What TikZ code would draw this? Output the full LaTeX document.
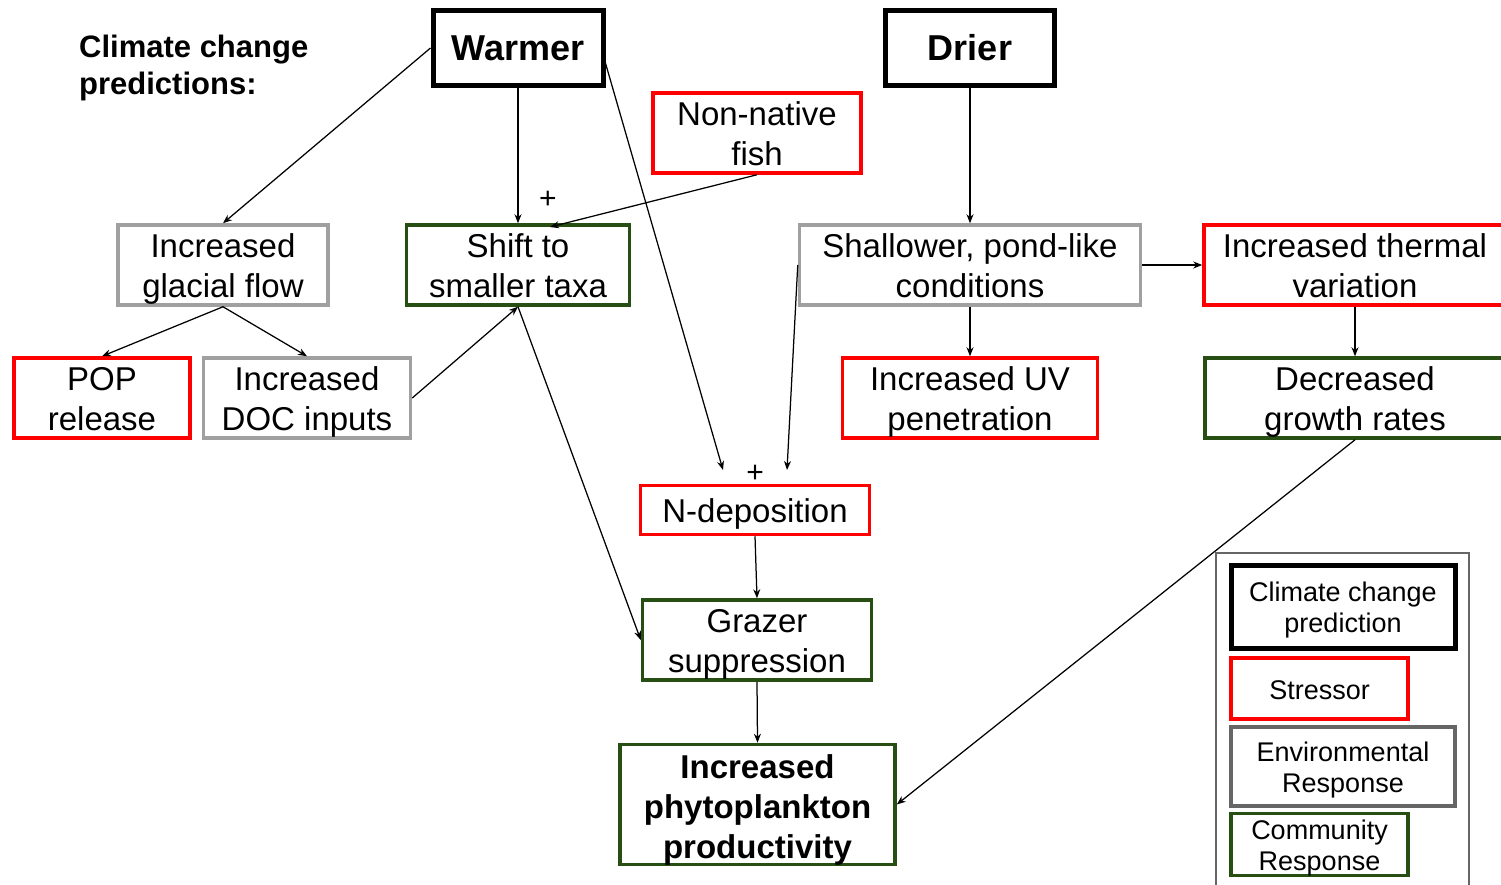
\documentclass[tikz,border=0pt]{standalone}
\usepackage{fontspec}
\setmainfont{Liberation Sans}
\usetikzlibrary{arrows.meta}
\definecolor{cred}{RGB}{255,0,0}
\definecolor{cgreen}{RGB}{39,78,19}
\definecolor{cgray}{RGB}{160,160,160}
\definecolor{cgrayd}{RGB}{102,102,102}
\newcommand\bxt[2][-4.3pt]{\raisebox{#1}[\height][\depth]{\begin{tabular}{@{}c@{}}#2\end{tabular}}}
\begin{document}
\begin{tikzpicture}[x=1pt,y=-1pt,
 box/.style={rectangle, inner sep=0pt, fill=white, font=\fontsize{33}{40}\selectfont},
 blk/.style={box, draw=black, line width=5pt, font=\fontsize{36}{43}\selectfont\bfseries},
 redb/.style={box, draw=cred, line width=3.5pt},
 grnb/.style={box, draw=cgreen, line width=3.5pt},
 gryb/.style={box, draw=cgray, line width=3.5pt},
 leg/.style={rectangle, inner sep=0pt, fill=white, font=\fontsize{27}{31}\selectfont},
 plus/.style={font=\fontsize{30}{30}\selectfont, inner sep=0pt},
 arr/.style={-{Stealth[length=9pt,width=7pt]}, line width=1.25pt}
]
\clip (0,0) rectangle (1501,884);
\fill[white] (0,0) rectangle (1501,884);

% title
\node[anchor=north west, align=left, inner sep=0pt, font=\fontsize{31}{37}\selectfont\bfseries] (title) at (79,35) {Climate change\\predictions:};

% climate predictions
\node[blk, minimum width=170pt, minimum height=75pt] (warmer) at (518,48) {\bxt{Warmer}};
\node[blk, minimum width=169pt, minimum height=75pt] (drier) at (970,48) {\bxt{Drier}};

% row 1
\node[redb, minimum width=208pt, minimum height=78pt] (fish) at (757,133) {\bxt{Non-native\\fish}};
\node[gryb, minimum width=210pt, minimum height=78pt] (glacial) at (223,265) {\bxt{Increased\\glacial flow}};
\node[grnb, minimum width=223pt, minimum height=78pt] (shift) at (518,265) {\bxt{Shift to\\smaller taxa}};
\node[gryb, minimum width=341pt, minimum height=78pt] (shallow) at (970,265) {\bxt{Shallower, pond-like\\conditions}};
\node[redb, minimum width=302pt, minimum height=78pt] (thermal) at (1355,265) {\bxt{Increased thermal\\variation}};

% row 2
\node[redb, minimum width=176pt, minimum height=78pt] (pop) at (102,398) {\bxt{POP\\release}};
\node[gryb, minimum width=207pt, minimum height=78pt] (doc) at (307,398) {\bxt{Increased\\DOC inputs}};
\node[redb, minimum width=255pt, minimum height=78pt] (uv) at (970,398) {\bxt{Increased UV\\penetration}};
\node[grnb, minimum width=300pt, minimum height=78pt] (decr) at (1355,398) {\bxt{Decreased\\growth rates}};

% lower chain
\node[redb, minimum width=229pt, minimum height=49pt] (ndep) at (755,510) {\bxt{N-deposition}};
\node[grnb, minimum width=229pt, minimum height=78pt] (grazer) at (757,640) {\bxt{Grazer\\suppression}};
\node[grnb, minimum width=275pt, minimum height=115pt, font=\fontsize{33}{40}\selectfont\bfseries] (phyto) at (757.5,804.5) {\bxt[-5.5pt]{Increased\\phytoplankton\\productivity}};

% plus signs
\node[plus] (plus1) at (548,200) {+};
\node[plus] (plus2) at (755,474) {+};

% free arrow ends
\coordinate (nin1) at (723,470);
\coordinate (nin2) at (787,470);
\coordinate (shin) at (550,227);
\coordinate (wout) at (604,58);

% connectors
\draw[arr] (warmer.west) -- (glacial.north);
\draw[arr] (warmer.south) -- (shift.north);
\draw[arr] (wout) -- (nin1);
\draw[arr] (fish.south) -- (shin);
\draw[arr] (drier.south) -- (shallow.north);
\draw[arr] (shallow.west) -- (nin2);
\draw[arr] (shallow.east) -- (thermal.west);
\draw[arr] (shallow.south) -- (uv.north);
\draw[arr] (thermal.south) -- (decr.north);
\draw[arr] (glacial.south) -- (pop.north);
\draw[arr] (glacial.south) -- (doc.north);
\draw[arr] (doc.east) -- (shift.south);
\draw[arr] (shift.south) -- (grazer.west);
\draw[arr] (ndep.south) -- (grazer.north);
\draw[arr] (grazer.south) -- (phyto.north);
\draw[arr] (decr.south) -- (phyto.east);

% legend
\draw[cgrayd, line width=1.5pt] (1216,553) rectangle (1469,900);
\node[leg, draw=black, line width=5pt, minimum width=224pt, minimum height=83pt] (lclim) at (1343,606.5) {\bxt[-3.8pt]{Climate change\\prediction}};
\node[leg, draw=cred, line width=3.5pt, minimum width=177pt, minimum height=61pt] (lstr) at (1319.5,688.5) {\bxt[-4.5pt]{Stressor}};
\node[leg, draw=cgrayd, line width=3.5pt, minimum width=224pt, minimum height=79pt] (lenv) at (1343,766.5) {\bxt[-3.8pt]{Environmental\\Response}};
\node[leg, draw=cgreen, line width=3.5pt, minimum width=177pt, minimum height=61pt] (lcom) at (1319.5,844.5) {\bxt[-3.8pt]{Community\\Response}};
\end{tikzpicture}
\end{document}
